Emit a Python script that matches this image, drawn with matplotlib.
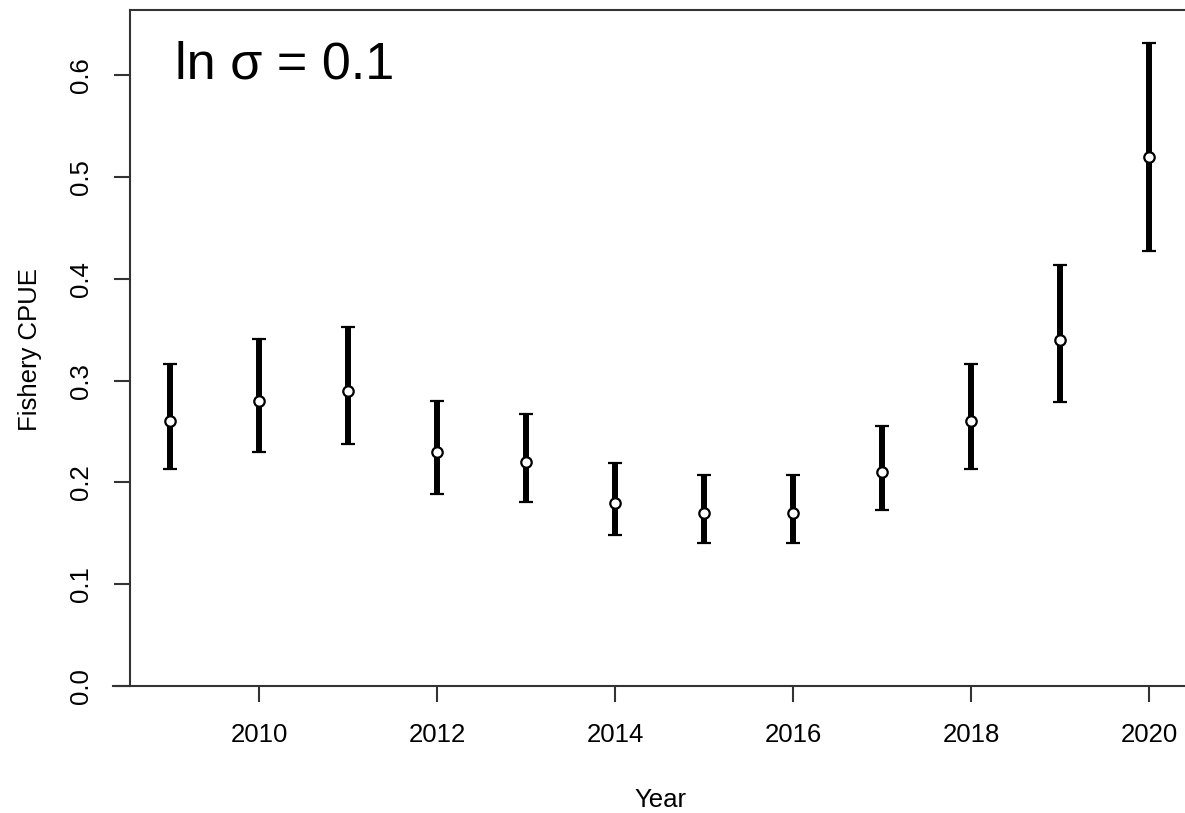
import matplotlib.pyplot as plt

plt.rcParams['font.family'] = ['Liberation Sans', 'DejaVu Sans']

# ================= Data ==================
years = [2009, 2010, 2011, 2012, 2013, 2014, 2015, 2016, 2017, 2018, 2019, 2020]
cpue = [0.26, 0.28, 0.29, 0.23, 0.22, 0.18, 0.17, 0.17, 0.21, 0.26, 0.34, 0.52]
lower = [0.213, 0.230, 0.238, 0.189, 0.181, 0.148, 0.140, 0.140, 0.173, 0.213, 0.279, 0.427]
upper = [0.316, 0.341, 0.353, 0.280, 0.267, 0.219, 0.207, 0.207, 0.255, 0.316, 0.414, 0.632]
x_ticks = [2010, 2012, 2014, 2016, 2018, 2020]
y_ticks = [0.0, 0.1, 0.2, 0.3, 0.4, 0.5, 0.6]

# ================= Figure ==================
W, H = 1185, 813
fig = plt.figure(figsize=(W / 100, H / 100), dpi=100)
ax = fig.add_axes([113 / W, (H - 686) / H, (W - 113) / W, (686 - 10) / H])

err_lo = [c - l for c, l in zip(cpue, lower)]
err_hi = [u - c for c, u in zip(cpue, upper)]
ax.errorbar(years, cpue, yerr=[err_lo, err_hi], fmt='none', ecolor='black',
            elinewidth=4.3, capsize=5, capthick=1.6, zorder=2)
ax.plot(years, cpue, 'o', markersize=7.5, markerfacecolor='white',
        markeredgecolor='black', markeredgewidth=1.6, zorder=3)

ax.set_xlim(2008.36, 2020.40)
ax.set_ylim(0, 0.664)

# R-style box: left + top lines, bottom axis running further left
ax.spines['right'].set_visible(False)
ax.spines['left'].set_position(('data', 2008.55))
ax.spines['top'].set_bounds(2008.55, 2020.40)
for s in ['left', 'top', 'bottom']:
    ax.spines[s].set_linewidth(1.5)
    ax.spines[s].set_color('#333333')

ax.set_xticks(x_ticks)
ax.set_yticks(y_ticks)
ax.set_yticklabels([f"{v:.1f}" for v in y_ticks], rotation=90, va='center')
ax.tick_params(axis='both', length=11.5, width=1.5, color='#333333',
               labelsize=18.5, pad=15)

ax.set_xlabel("Year", fontsize=18.5)
ax.xaxis.set_label_coords((660 - 113) / (W - 113), -(788 - 686) / (686 - 10))
ax.set_ylabel("Fishery CPUE", fontsize=18.5)
ax.yaxis.set_label_coords(-(113 - 42) / (W - 113), (686 - 350) / (686 - 10))

ax.text(2008.55 + (175 - 130) / 89, 0.597, "ln \u03c3 = 0.1", fontsize=37.5,
        ha='left', va='baseline')

fig.savefig("out.png", dpi=100)
